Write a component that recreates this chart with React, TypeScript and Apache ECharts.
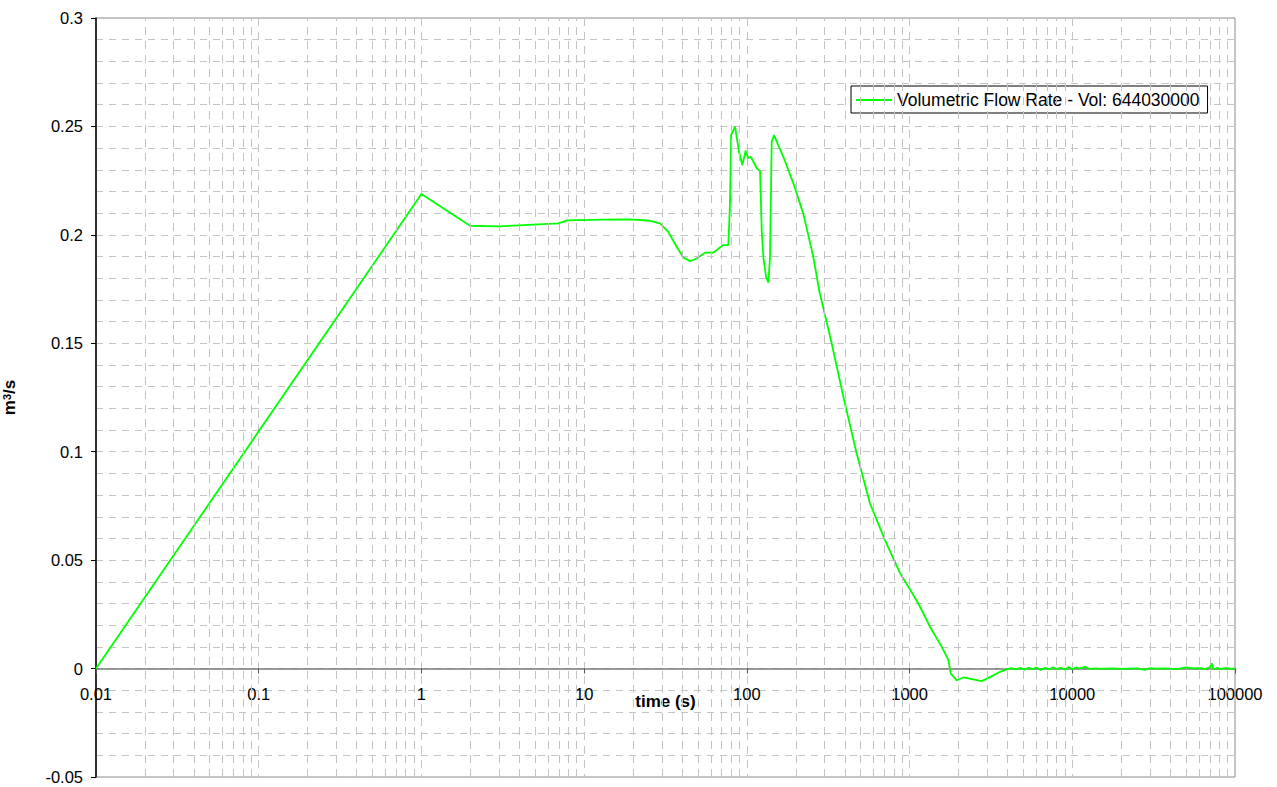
import React, { useEffect, useRef } from "react";
import * as echarts from "echarts";

const seriesName = "Volumetric Flow Rate - Vol: 644030000";

const timeMain = [
  0.01, 1, 1.99, 2.97, 6.94, 7.89, 13.1, 19.1, 25.4, 29.3, 32.9, 37.0, 40.7, 44.7, 49.2,
  55.3, 62.2, 68.4, 71.7, 76.9, 78.8, 80.0, 84.6, 89.5, 93.8, 98.4, 102, 105.7, 115,
  120.5, 123.4, 126.2, 131.2, 135.6, 138.8, 142.1, 146.8, 167.5, 193, 222, 256, 279,
  332, 392, 473, 571, 706, 875, 1055, 1159, 1336, 1577, 1733, 1792, 1950, 2143, 2776, 3300,
];
const flowMain = [
  0, 0.2188, 0.2042, 0.2039, 0.2053, 0.2067, 0.207, 0.2071, 0.2065, 0.2053, 0.2014, 0.1945,
  0.1896, 0.1879, 0.1891, 0.1918, 0.1918, 0.1942, 0.1953, 0.1953, 0.2145, 0.246, 0.2499,
  0.2383, 0.2322, 0.2388, 0.2353, 0.236, 0.2307, 0.2294, 0.2022, 0.1899, 0.1807, 0.1779,
  0.1899, 0.2429, 0.246, 0.236, 0.2238, 0.2099, 0.1899, 0.174, 0.15, 0.1253, 0.0992,
  0.0762, 0.0592, 0.0439, 0.0339, 0.0285, 0.0192, 0.01, 0.0039, -0.0023, -0.0054,
  -0.0041, -0.0058, -0.003,
];
const timeTail = [
  3600, 3800, 4000, 4200, 4500, 4800, 5100, 5400, 5700, 6000, 6400, 6800, 7200, 7600, 8000,
  8500, 9000, 9500, 10000, 10500, 11000, 11500, 12000, 12500, 13000, 14000, 15000, 16000,
  18000, 20000, 22000, 25000, 28000, 30000, 33000, 36000, 40000, 45000, 50000, 55000,
  60000, 65000, 70000, 72000, 74000, 78000, 82000, 88000, 94000, 100000,
];
const flowTail = [
  -0.0015, -0.0008, -0.0003, 0.0002, -0.0004, 0.0003, -0.0005, 0.0004, -0.0003, 0.0005,
  -0.0006, 0.0003, -0.0004, 0.0006, -0.0002, 0.0004, -0.0005, 0.0007, -0.0003, 0.0005,
  0.0001, 0.0003, 0.0008, 0.0002, -0.0002, 0.0001, -0.0001, 0.0, 0.0001, -0.0001,
  0.0, 0.0001, -0.0006, 0.0002, 0.0, 0.0001, 0.0, -0.0001, 0.0006, 0.0001,
  0.0002, -0.0002, 0.0005, 0.0024, -0.0004, 0.0003, -0.0002, 0.0002, 0.0, 0.0,
];
const xTickLabels = ["0.01", "0.1", "1", "10", "100", "1000", "10000", "100000"];
const yMin = -0.05;
const yMax = 0.3;
const yStep = 0.05;

const FONT = "'Liberation Sans', Arial, sans-serif";
const GRID_COLOR = "#c4c4c4";
const GRID_TOP = 18;
const GRID_BOTTOM = 10;
const CHART_H = 787;

export default function App() {
  const ref = useRef<HTMLDivElement>(null);

  useEffect(() => {
    if (!ref.current) return;
    const chart = echarts.init(ref.current, undefined, { renderer: "svg" });

    const times = timeMain.concat(timeTail);
    const flows = flowMain.concat(flowTail);
    const data = times.map((t, i) => [t, flows[i]]);

    // minor vertical grid positions (2..9 within each decade)
    const minorX: { xAxis: number }[] = [];
    for (let d = -2; d < 5; d++) {
      for (let m = 2; m <= 9; m++) {
        minorX.push({ xAxis: m * Math.pow(10, d) });
      }
    }

    // move the x axis up onto y = 0
    const plotH = CHART_H - GRID_TOP - GRID_BOTTOM;
    const zeroOffset = -plotH * ((0 - yMin) / (yMax - yMin));

    chart.setOption({
      animation: false,
      backgroundColor: "#ffffff",
      textStyle: { fontFamily: FONT },
      grid: {
        left: 96,
        right: 42,
        top: GRID_TOP,
        bottom: GRID_BOTTOM,
        show: true,
        borderColor: "#8a8a8a",
        borderWidth: 1,
        containLabel: false,
        outerBoundsMode: "none",
      },
      legend: {
        show: true,
        data: [seriesName],
        left: 851,
        top: 86,
        orient: "horizontal",
        icon: "rect",
        itemWidth: 36,
        itemHeight: 2,
        itemGap: 5,
        padding: [5, 8, 4, 5],
        borderColor: "#000",
        borderWidth: 1,
        backgroundColor: "#fff",
        textStyle: { fontFamily: FONT, fontSize: 17.5, color: "#000" },
      },
      xAxis: {
        type: "log",
        logBase: 10,
        min: 0.01,
        max: 100000,
        offset: zeroOffset,
        name: "time (s)",
        nameLocation: "middle",
        nameGap: 24,
        nameMoveOverlap: false,
        nameTextStyle: { fontFamily: FONT, fontSize: 17, fontWeight: "bold", color: "#000" },
        axisLine: { show: true, onZero: false, lineStyle: { color: "#7a7a7a", width: 1.5 } },
        axisTick: { show: true, length: 5, lineStyle: { color: "#555" } },
        axisLabel: {
          margin: 17,
          fontFamily: FONT,
          fontSize: 16.5,
          color: "#000",
          formatter: (v: number) => {
            const idx = Math.round(Math.log10(v)) + 2;
            return xTickLabels[idx] ?? "";
          },
        },
        splitLine: { show: true, lineStyle: { color: GRID_COLOR, type: [8, 6], width: 1 } },
      },
      yAxis: {
        type: "value",
        min: yMin,
        max: yMax,
        interval: yStep,
        name: "{a|m}{b|3}{a|/s}",
        nameLocation: "middle",
        nameGap: 78,
        nameMoveOverlap: false,
        nameTextStyle: {
          fontFamily: FONT,
          fontSize: 17,
          fontWeight: "bold",
          color: "#000",
          rich: {
            a: { fontFamily: FONT, fontSize: 17, fontWeight: "bold", color: "#000" },
            b: {
              fontFamily: FONT,
              fontSize: 11,
              fontWeight: "bold",
              color: "#000",
              verticalAlign: "top",
            },
          },
        },
        axisLine: { show: true, onZero: false, lineStyle: { color: "#000", width: 1.5 } },
        axisTick: { show: true, length: 5, lineStyle: { color: "#000" } },
        axisLabel: { margin: 13, fontFamily: FONT, fontSize: 16.5, color: "#000" },
        splitLine: { show: true, lineStyle: { color: GRID_COLOR, type: [7, 6], width: 1 } },
        minorTick: { show: false, splitNumber: 5 },
        minorSplitLine: { show: true, lineStyle: { color: GRID_COLOR, type: [7, 6], width: 1 } },
      },
      series: [
        {
          name: "gridMinor",
          type: "line",
          data: [],
          silent: true,
          z: 1,
          markLine: {
            silent: true,
            symbol: ["none", "none"],
            label: { show: false },
            lineStyle: { color: GRID_COLOR, type: [8, 6], width: 1 },
            data: minorX,
          },
        },
        {
          name: seriesName,
          type: "line",
          data,
          z: 3,
          showSymbol: false,
          symbol: "none",
          lineStyle: { color: "#00ff00", width: 1.8 },
          itemStyle: { color: "#00ff00" },
        },
      ],
    });

    return () => {
      chart.dispose();
    };
  }, []);

  return (
    <div
      ref={ref}
      style={{ position: "fixed", left: 0, top: 0, width: 1277, height: CHART_H, background: "#fff" }}
    />
  );
}
